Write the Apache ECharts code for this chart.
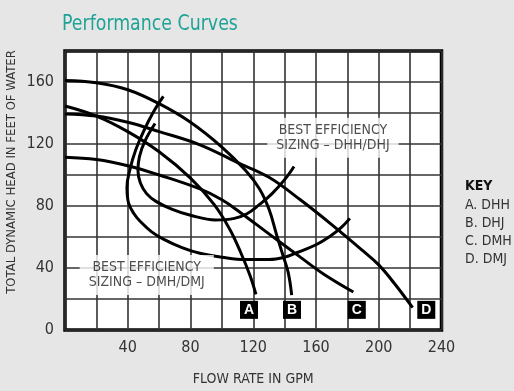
<!DOCTYPE html>
<html><head><meta charset="utf-8">
<script src="https://cdn.jsdelivr.net/npm/echarts@6/dist/echarts.min.js"></script>
<style>html,body{margin:0;padding:0;background:#e6e6e6;}#c{width:514px;height:391px;}</style>
</head><body><div id="c"></div>
<script>
// Pump curves [flow GPM, head ft]
const curveA = [[0,144.5],[20,138],[40,128],[60,115],[80,98],[95,81],[105,65],[112,50],[118,35],[121.7,23]];
const curveB = [[0,161],[20,159.5],[40,155],[60,146],[80,134],[100,118],[115,103],[124,91],[130,78],[135,61],[139,48],[142.3,37],[144.5,22.5]];
const curveC = [[0,111.5],[20,110],[40,106],[60,100],[86,91],[100,84],[111.5,76],[130,62],[150,47],[165,36],[183.8,24.5]];
const curveD = [[0,139.4],[20,138],[40,134],[60,128],[86,119.5],[110,108],[130,98.5],[150,84],[170,68],[190,51],[200,42],[210,30],[221.6,14.4]];
// Best efficiency envelopes
const effDMH = [[62.7,150.7],[56,140],[50,128],[45,116],[41.5,104],[39.5,92],[40.5,82],[44,75],[48,70],[55,63.5],[63,58.5],[75,53],[86,49.5],[100,47],[115,45.5],[130,45.5],[140,47],[148,50],[160,55],[169,60.5],[176,66],[181.6,72]];
const effDHH = [[57.4,133.2],[51,122],[47.5,112],[46.5,103],[48,95],[52,88],[58,83],[68,78],[80,74],[96,71],[108,72],[116,75],[124,81],[132,88],[140,97],[146,105.5]];
// Curve end tags
const tagNames = ['A','B','C','D'];
const tagPos = [[117.3,13],[144.7,13],[186,13],[230.3,13]];
// Annotation texts
const noteTexts = ['BEST EFFICIENCY\nSIZING – DHH/DHJ','BEST EFFICIENCY\nSIZING – DMH/DMJ'];
const notePos = [[170.8,124],[52.1,35.5]];
// Ticks
const xTickLabels = [40,80,120,160,200,240];
const yTickLabels = [0,40,80,120,160];
const keyItems = ['KEY','A. DHH','B. DHJ','C. DMH','D. DMJ'];

const NARROW = "'Liberation Sans Narrow','DejaVu Sans Condensed',sans-serif";
const chart = echarts.init(document.getElementById('c'), null, {renderer:'canvas'});
const lineSeries = (d) => ({type:'line', data:d, smooth:0.4, symbol:'none',
  lineStyle:{color:'#000', width:3}, silent:true, z:3});

chart.setOption({
  backgroundColor:'#e6e6e6',
  animation:false,
  grid:{left:65, right:72.5, top:51, bottom:55.5, show:true, backgroundColor:'#fff', borderColor:'#000', borderWidth:3.5},
  xAxis:{type:'value', min:0, max:240, interval:20,
    name:'FLOW RATE IN GPM', nameLocation:'middle', nameGap:42,
    nameTextStyle:{fontFamily:NARROW, fontSize:14, color:'#333'},
    axisLine:{show:false}, axisTick:{show:false},
    splitLine:{show:true, lineStyle:{color:'#333', width:1.6}},
    axisLabel:{fontFamily:NARROW, fontSize:16, color:'#333', margin:10,
      formatter:v => xTickLabels.includes(v) ? String(v) : ''}},
  yAxis:{type:'value', min:0, max:180, interval:20,
    axisLine:{show:false}, axisTick:{show:false},
    splitLine:{show:true, lineStyle:{color:'#333', width:1.6}},
    axisLabel:{fontFamily:NARROW, fontSize:16, color:'#333', margin:11,
      formatter:v => yTickLabels.includes(v) ? String(v) : ''}},
  graphic:[
    {type:'text', x:62, y:14, scaleX:0.92, style:{text:'Performance Curves', fontFamily:NARROW, fontSize:21, fill:'#1fa396'}},
    {type:'text', x:12, y:172, rotation:Math.PI/2, style:{text:'TOTAL DYNAMIC HEAD IN FEET OF WATER', fontFamily:NARROW, fontSize:13, fill:'#333', align:'center', verticalAlign:'middle'}},
    ...keyItems.map((t,i)=>({type:'text', x:465, y:[186,205,223,241,259][i],
      style:{text:t, fontFamily:NARROW, fontSize:14, fontWeight:i===0?'bold':'normal', fill:i===0?'#111':'#333', verticalAlign:'middle'}}))
  ],
  series:[
    lineSeries(curveA), lineSeries(curveB), lineSeries(curveC), lineSeries(curveD),
    lineSeries(effDMH), lineSeries(effDHH),
    {type:'scatter', data:tagPos.map((p,i)=>({value:p, name:tagNames[i]})), symbol:'rect', symbolSize:18,
      itemStyle:{color:'#000', opacity:1}, z:5, silent:true,
      label:{show:true, position:'inside', formatter:p=>p.name, color:'#fff', fontWeight:'bold', fontSize:14, fontFamily:'Liberation Sans, Arial, sans-serif'}},
    {type:'scatter', data:notePos.map((p,i)=>({value:p, name:noteTexts[i]})), symbolSize:0, z:6, silent:true,
      label:{show:true, position:'inside', formatter:p=>p.name, color:'#222', fontFamily:NARROW, fontSize:14, lineHeight:15,
        align:'center', backgroundColor:'#fff', padding:[5,9,5,9]}}
  ]
});
</script></body></html>
